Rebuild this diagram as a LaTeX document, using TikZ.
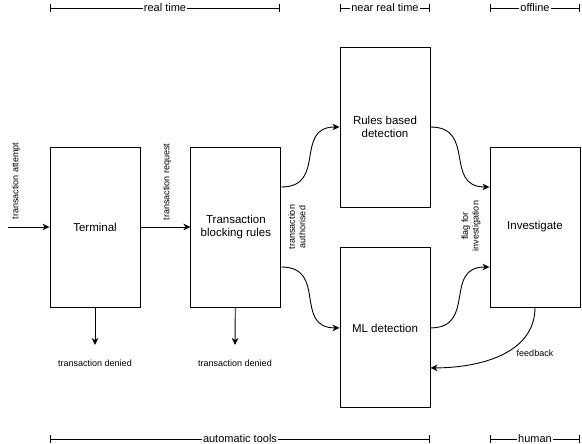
\documentclass[tikz,border=0pt]{standalone}
\usepackage{fontspec}
\setmainfont{Liberation Sans}
\usepackage{xcolor}
\usetikzlibrary{positioning}
\usetikzlibrary{arrows.meta}
\tikzset{edge/.style = {->,> = {Stealth[length=7pt,width=6.5pt,inset=2pt]}}}
\tikzset{span/.style = {{Bar[width=8pt]}-{Bar[width=8pt]}}}

\begin{document}
\begin{tikzpicture}[x=1pt,y=-1pt,line width=0.9pt,
    box/.style={rectangle,draw,minimum width=90pt,minimum height=160pt,align=center,font=\fontsize{11.5}{13.5}\selectfont},
    small/.style={font=\fontsize{9}{10.5}\selectfont,align=center},
    scalelabel/.style={fill=white,inner sep=1pt,font=\fontsize{11}{13}\selectfont}]
            \useasboundingbox (0,0) rectangle (582,444);

            \node[box] (term) at (95,227) {Terminal};
            \node[box] (block) [right=50pt of term] {Transaction\\blocking rules};
            \node[box] (rules) at (385,127) {Rules based\\detection};
            \node[box] (ml) [below=40pt of rules] {ML detection};
            \node[box] (invest) at (535,227) {Investigate};

            % way in, and the denied ends
            \coordinate (start) at (8,227);
            \coordinate (deny1) at (95,345);
            \coordinate (deny2) at (235,345);
            \draw[edge] (start) -- (term);
            \draw[edge] (term) -- (block);
            \draw[edge] (term) -- (deny1);
            \draw[edge] (block) -- (deny2);
            \node[small] (denied1) at (95,363) {transaction denied};
            \node[small] (denied2) at (235,363) {transaction denied};
            \node[small,rotate=90] (attempt) at (16,181) {transaction attempt};
            \node[small,rotate=90] (request) at (167,182) {transaction request};

            % curved edges
            \draw[edge] ([yshift=40pt]block.east) to[out=0,in=180,looseness=1.4] (rules.west);
            \draw[edge] ([yshift=-40pt]block.east) to[out=0,in=180,looseness=1.4] (ml.west);
            \draw[edge] (rules.east) to[out=0,in=180,looseness=1.4] ([yshift=40pt]invest.west);
            \draw[edge] (ml.east) to[out=0,in=180,looseness=1.4] ([yshift=-40pt]invest.west);
            \draw[edge] (invest.south) to[out=-90,in=0] ([yshift=-40pt]ml.east);
            \node[small,rotate=90] (authorised) at (297,227) {transaction\\authorised};
            \node[small,rotate=90] (flag) at (471,226) {flag for\\investigation};
            \node[small] (feedback) at (535,353) {feedback};

            % time and tool spans
            \coordinate (rt1) at (50,8);
            \coordinate (rt2) at (280,8);
            \coordinate (nrt1) at (340,8);
            \coordinate (nrt2) at (430,8);
            \coordinate (off1) at (490,8);
            \coordinate (off2) at (580,8);
            \coordinate (auto1) at (50,439);
            \coordinate (auto2) at (430,439);
            \coordinate (hum1) at (490,439);
            \coordinate (hum2) at (580,439);
            \draw[span] (rt1) -- node[scalelabel] {real time} (rt2);
            \draw[span] (nrt1) -- node[scalelabel] {near real time} (nrt2);
            \draw[span] (off1) -- node[scalelabel] {offline} (off2);
            \draw[span] (auto1) -- node[scalelabel] {automatic tools} (auto2);
            \draw[span] (hum1) -- node[scalelabel] {human} (hum2);
        \end{tikzpicture}
\end{document}
